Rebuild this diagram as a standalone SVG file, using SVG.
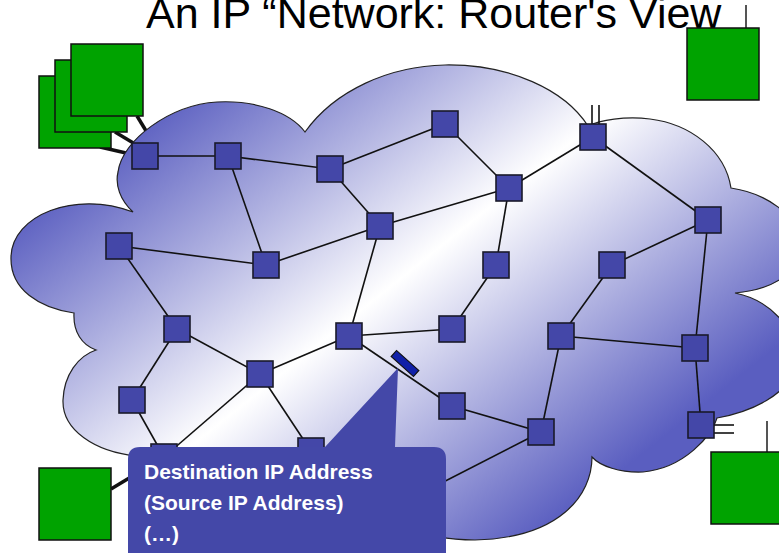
<svg xmlns="http://www.w3.org/2000/svg" width="779" height="553" viewBox="0 0 779 553">
<defs>
<linearGradient id="cg" gradientUnits="userSpaceOnUse" x1="200" y1="70" x2="560" y2="520">
<stop offset="0" stop-color="#5A5EC0"/>
<stop offset="0.5" stop-color="#FFFFFF"/>
<stop offset="1" stop-color="#5A5EC0"/>
</linearGradient>
<style>
.host{fill:#00A300;stroke:#111;stroke-width:1.5}
.r{fill:#4447A8;stroke:#1a1a2a;stroke-width:1.6}
.e{stroke:#111;stroke-width:1.6;fill:none}
.thick{stroke:#111;stroke-width:3.5;fill:none}
.gl{stroke:#555;stroke-width:2;fill:none}
.t{font-family:"Liberation Sans",Arial,sans-serif}
.ct{font-family:"Liberation Sans",Arial,sans-serif;font-weight:bold;font-size:21px;fill:#fff}
</style>
</defs>
<rect width="779" height="553" fill="#fff"/>
<text class="t" x="146" y="28" font-size="43" fill="#000">An IP “Network: Router's View</text>

<g id="hostlinks">
<line class="thick" x1="137" y1="116" x2="165" y2="162"/>
<line class="thick" x1="115" y1="132" x2="165" y2="162"/>
<line class="thick" x1="100" y1="147" x2="165" y2="162"/>
</g>
<g id="host-tl3"><rect class="host" x="39" y="76" width="72" height="72"/></g>
<g id="host-tl2"><rect class="host" x="55" y="60" width="72" height="72"/></g>
<g id="host-tl1"><rect class="host" x="71" y="44" width="72" height="72"/></g>

<g id="cloud">
<path d="M133,212 C120,200 115,185 118,172 C122,140 170,105 217,102 C255,100 290,112 305,132 C335,90 390,66 445,65 C510,64 565,90 588,126 C600,120 625,116 650,119 C690,124 725,150 731,188 C765,193 800,215 800,245 C800,275 770,290 735,293 C770,300 800,330 795,365 C790,395 750,412 717,418 C712,435 685,468 643,472 C620,473 600,466 592,457 C592,495 560,538 475,540 C420,540 380,520 365,495 C310,505 200,480 137,456 C95,452 62,430 63,400 C64,375 78,356 96,350 C82,345 73,332 74,313 C40,308 10,290 11,257 C12,215 75,190 133,212 Z" fill="url(#cg)" stroke="#222" stroke-width="1.2"/>
</g>

<g id="connectors">
<line class="e" x1="145" y1="156" x2="228" y2="156"/>
<line class="e" x1="228" y1="156" x2="330" y2="169"/>
<line class="e" x1="228" y1="156" x2="266" y2="265"/>
<line class="e" x1="330" y1="169" x2="445" y2="124"/>
<line class="e" x1="330" y1="169" x2="380" y2="226"/>
<line class="e" x1="445" y1="124" x2="509" y2="188"/>
<line class="e" x1="509" y1="188" x2="593" y2="137"/>
<line class="e" x1="509" y1="188" x2="380" y2="226"/>
<line class="e" x1="593" y1="137" x2="708" y2="220"/>
<line class="e" x1="380" y1="226" x2="266" y2="265"/>
<line class="e" x1="380" y1="226" x2="349" y2="336"/>
<line class="e" x1="119" y1="246" x2="266" y2="265"/>
<line class="e" x1="119" y1="246" x2="177" y2="329"/>
<line class="e" x1="509" y1="188" x2="496" y2="265"/>
<line class="e" x1="496" y1="265" x2="452" y2="329"/>
<line class="e" x1="708" y1="220" x2="612" y2="265"/>
<line class="e" x1="708" y1="220" x2="695" y2="348"/>
<line class="e" x1="612" y1="265" x2="561" y2="336"/>
<line class="e" x1="561" y1="336" x2="695" y2="348"/>
<line class="e" x1="561" y1="336" x2="541" y2="432"/>
<line class="e" x1="695" y1="348" x2="701" y2="425"/>
<line class="e" x1="177" y1="329" x2="260" y2="374"/>
<line class="e" x1="177" y1="329" x2="132" y2="400"/>
<line class="e" x1="132" y1="400" x2="164" y2="457"/>
<line class="e" x1="260" y1="374" x2="164" y2="457"/>
<line class="e" x1="260" y1="374" x2="349" y2="336"/>
<line class="e" x1="260" y1="374" x2="311" y2="451"/>
<line class="e" x1="349" y1="336" x2="452" y2="329"/>
<line class="e" x1="349" y1="336" x2="452" y2="406"/>
<line class="e" x1="452" y1="406" x2="541" y2="432"/>
<line class="e" x1="541" y1="432" x2="420" y2="494"/>
<line class="thick" x1="111" y1="489" x2="164" y2="457"/>
<line class="e" x1="592" y1="105" x2="592" y2="124"/>
<line class="e" x1="599" y1="105" x2="599" y2="124"/>
<line class="e" x1="714" y1="425" x2="734" y2="425"/>
<line class="e" x1="714" y1="433" x2="734" y2="433"/>
<line class="gl" x1="746" y1="5" x2="746" y2="28"/>
<line class="gl" x1="767" y1="421" x2="767" y2="452"/>
</g>

<g id="n1"><rect class="r" x="132" y="143" width="26" height="26"/></g>
<g id="n2"><rect class="r" x="215" y="143" width="26" height="26"/></g>
<g id="n3"><rect class="r" x="317" y="156" width="26" height="26"/></g>
<g id="n4"><rect class="r" x="432" y="111" width="26" height="26"/></g>
<g id="n5"><rect class="r" x="580" y="124" width="26" height="26"/></g>
<g id="n6"><rect class="r" x="496" y="175" width="26" height="26"/></g>
<g id="n7"><rect class="r" x="367" y="213" width="26" height="26"/></g>
<g id="n8"><rect class="r" x="695" y="207" width="26" height="26"/></g>
<g id="n9"><rect class="r" x="106" y="233" width="26" height="26"/></g>
<g id="n10"><rect class="r" x="253" y="252" width="26" height="26"/></g>
<g id="n11"><rect class="r" x="483" y="252" width="26" height="26"/></g>
<g id="n12"><rect class="r" x="599" y="252" width="26" height="26"/></g>
<g id="n13"><rect class="r" x="164" y="316" width="26" height="26"/></g>
<g id="n14"><rect class="r" x="336" y="323" width="26" height="26"/></g>
<g id="n15"><rect class="r" x="439" y="316" width="26" height="26"/></g>
<g id="n16"><rect class="r" x="548" y="323" width="26" height="26"/></g>
<g id="n17"><rect class="r" x="682" y="335" width="26" height="26"/></g>
<g id="n18"><rect class="r" x="247" y="361" width="26" height="26"/></g>
<g id="n19"><rect class="r" x="119" y="387" width="26" height="26"/></g>
<g id="n20"><rect class="r" x="439" y="393" width="26" height="26"/></g>
<g id="n21"><rect class="r" x="528" y="419" width="26" height="26"/></g>
<g id="n22"><rect class="r" x="688" y="412" width="26" height="26"/></g>
<g id="n23"><rect class="r" x="151" y="444" width="26" height="26"/></g>
<g id="n24"><rect class="r" x="298" y="438" width="26" height="26"/></g>

<g id="packet"><rect x="390" y="359.5" width="30" height="8" fill="#1020A8" stroke="#111" stroke-width="1.2" transform="rotate(42 405 363.5)"/></g>

<g id="host-tr"><rect class="host" x="687" y="28" width="72" height="72"/></g>
<g id="host-br"><rect class="host" x="711" y="452" width="72" height="72"/></g>
<g id="host-bl"><rect class="host" x="39" y="468" width="72" height="72"/></g>

<g id="callout">
<path d="M140,447 L325,447 L398,368 L395,447 L434,447 Q446,447 446,459 L446,560 L128,560 L128,459 Q128,447 140,447 Z" fill="#4448A8"/>
<text class="ct" x="144" y="479">Destination IP Address</text>
<text class="ct" x="144" y="510">(Source IP Address)</text>
<text class="ct" x="144" y="541">(…)</text>
</g>
</svg>
